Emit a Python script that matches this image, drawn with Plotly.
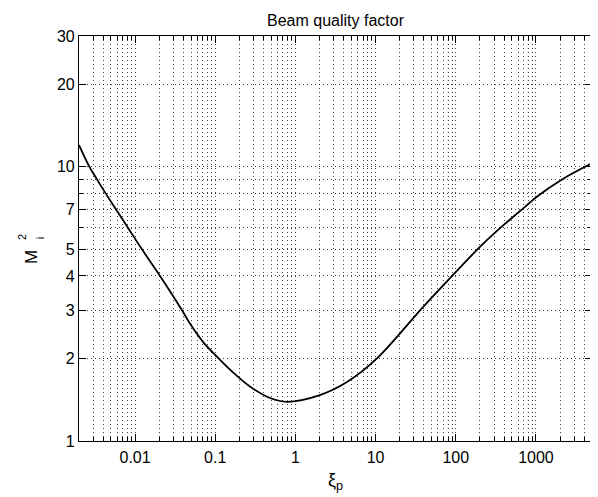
import plotly.graph_objects as go

# Data
xi_p = [0.002, 0.0027, 0.00335, 0.0043, 0.00578, 0.00816, 0.0122, 0.0205,
        0.0385, 0.0484, 0.0703, 0.105, 0.153, 0.271, 0.482, 0.785, 2.02, 4.4,
        10.4, 39, 92, 212, 387, 688, 1025, 2166, 5000]
m2 = [12.0, 10.0, 9.0, 8.0, 7.0, 6.0, 5.0, 4.0,
      3.0, 2.68, 2.30, 2.03, 1.82, 1.58, 1.435, 1.39, 1.47, 1.64,
      2.0, 3.08, 4.03, 5.19, 6.1, 7.04, 7.78, 9.03, 10.3]

x_ticks = [0.01, 0.1, 1, 10, 100, 1000]
x_tick_labels = ["0.01", "0.1", "1", "10", "100", "1000"]
x_minor = [m * 10 ** e for e in range(-3, 4) for m in range(2, 10)
           if 0.002 <= m * 10 ** e <= 5000]
y_ticks = [1, 2, 3, 4, 5, 7, 10, 20, 30]
y_tick_labels = ["1", "2", "3", "4", "5", "7", "10", "20", "30"]
y_minor = [6, 8, 9]

title_text = "Beam quality factor"
x_title = "ξ<sub>p</sub>"

grid_col = "rgba(0,0,0,0.75)"
grid_dash = "1px,3px"
FONT = "Liberation Sans, Arial, Helvetica, sans-serif"

fig = go.Figure()
fig.add_trace(go.Scatter(x=xi_p, y=m2, mode="lines",
                         line=dict(color="black", width=1.8, shape="spline", smoothing=1.0),
                         showlegend=False, hoverinfo="skip"))

# the page body has an 8px margin, so the figure is 8px smaller than the window
fig.update_layout(
    width=590, height=489,
    margin=dict(l=71, r=6, t=28, b=56),
    paper_bgcolor="white", plot_bgcolor="white",
    font=dict(family=FONT, size=16, color="black"),
    title=dict(text=title_text, x=0.5, xanchor="center", xref="paper",
               y=0.9755, yanchor="middle", font=dict(size=16)),
)

axis_common = dict(
    type="log", tickmode="array",
    ticks="inside", ticklen=7, tickcolor="black", tickwidth=1,
    showline=True, linecolor="black", linewidth=1.2, mirror="allticks",
    showgrid=True, gridcolor=grid_col, griddash=grid_dash, gridwidth=1,
    zeroline=False, automargin=False,
)

fig.update_xaxes(
    range=[0.30103 - 3, 3.69897],
    tickvals=x_ticks, ticktext=x_tick_labels, ticklabelstandoff=2,
    minor=dict(tickmode="array", tickvals=x_minor, ticks="inside", ticklen=4,
               tickcolor="black", showgrid=True, gridcolor=grid_col,
               griddash=grid_dash, gridwidth=1),
    title=dict(text=x_title, standoff=8, font=dict(size=18)),
    **axis_common,
)
fig.update_yaxes(
    range=[0, 1.4771213],
    tickvals=y_ticks, ticktext=y_tick_labels,
    minor=dict(tickmode="array", tickvals=y_minor, ticks="inside", ticklen=4,
               tickcolor="black", showgrid=True, gridcolor=grid_col,
               griddash=grid_dash, gridwidth=1),
    **axis_common,
)

# y-axis label M with stacked super/subscript (M_i^2)
fig.add_annotation(text="M", xref="paper", yref="paper", x=-0.0936, y=0.454,
                   textangle=-90, showarrow=False, font=dict(size=17),
                   xanchor="center", yanchor="middle")
fig.add_annotation(text="2", xref="paper", yref="paper", x=-0.111, y=0.504,
                   textangle=-90, showarrow=False, font=dict(size=11),
                   xanchor="center", yanchor="middle")
fig.add_annotation(text="i", xref="paper", yref="paper", x=-0.077, y=0.502,
                   textangle=-90, showarrow=False, font=dict(size=11),
                   xanchor="center", yanchor="middle")

fig.write_html("out.html")
